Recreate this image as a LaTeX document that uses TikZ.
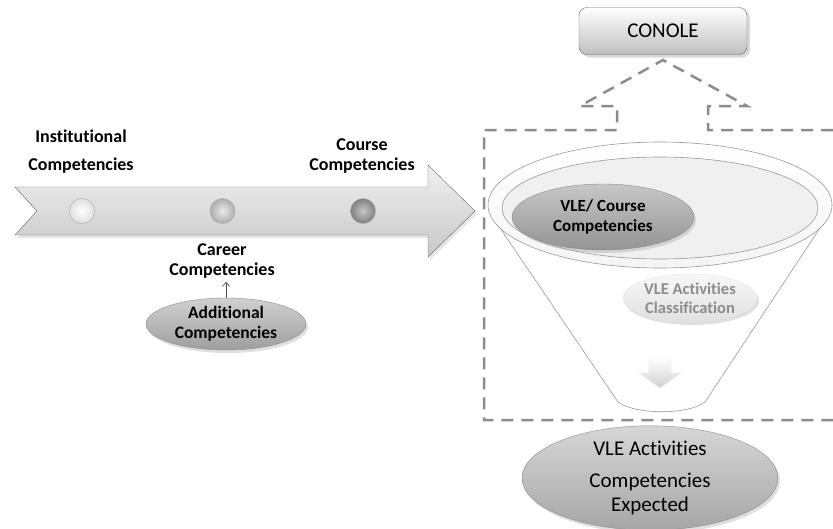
\documentclass[tikz,border=0pt]{standalone}
\usepackage{fontspec}
\setmainfont{Carlito}[Ligatures=NoCommon]
\usetikzlibrary{shapes.geometric,shadows,positioning,arrows.meta}

\begin{document}
\begin{tikzpicture}[x=1pt,y=-1pt,node distance=140.5pt,>={Straight Barb[length=4pt,width=7pt]}]

    \tikzstyle{lbl} = [align=center, font=\fontsize{18}{20}\selectfont\bfseries];
    \tikzstyle{dot} = [circle, minimum size=25pt, inner sep=0pt, draw=black!35, shading=radial];
    \tikzstyle{oval} = [ellipse, draw=black!45, align=center, inner sep=0pt, top color=black!18, bottom color=black!38, drop shadow={opacity=0.25, shadow xshift=2pt, shadow yshift=-3pt}];
    \tikzstyle{box} = [rectangle, rounded corners=8pt, draw=black!60, minimum width=168pt, minimum height=47pt, top color=white, bottom color=black!25, font=\fontsize{21}{24}\selectfont, drop shadow={opacity=0.3, shadow xshift=3pt, shadow yshift=-3pt}];
    \tikzstyle{dashline} = [draw=black!45, line width=2.5pt, dash pattern=on 12pt off 8pt];
    \tikzstyle{rim} = [draw=black!40, line width=0.6pt];

    \useasboundingbox (0,0) rectangle (833,528);

    % timeline
    \draw[draw=black!60, top color=black!6, bottom color=black!22, drop shadow={opacity=0.2, shadow xshift=2pt, shadow yshift=-3pt}]
        (15,187) -- (428,187) -- (428,165) -- (475,211) -- (428,257) -- (428,235) -- (15,235) -- (37,211) -- cycle;
    \node[dot, inner color=white, outer color=black!12] (d1) at (82,211) {};
    \node[dot, inner color=black!8, outer color=black!32, right of=d1] (d2) {};
    \node[dot, inner color=black!22, outer color=black!50, right of=d2] (d3) {};

    \node[lbl] (inst) at (81,152) {Institutional\\[8pt]Competencies};
    \node[lbl] (course) at (362,156) {Course\\Competencies};
    \node[lbl] (career) at (222,261) {Career\\Competencies};

    \node[oval, minimum width=160pt, minimum height=52pt, font=\fontsize{17.5}{20}\selectfont\bfseries] (addl) at (226,324) {Additional\\Competencies};
    \draw[->, black!70, line width=0.7pt] (addl.north) -- (addl.north |- career.south);

    % CONOLE
    \node[box] (conole) at (663,31) {CONOLE};
    \coordinate (apex) at (663,60);
    \draw[dashline] (833,130) -- (708,130) -- (708,106) -- (747,106) -- (apex) -- (580,106)
        -- (617,106) -- (617,130) -- (484,130) -- (484,420) -- (833,420);

    % funnel
    \draw[rim, fill=white] (500,228) -- (618,402) .. controls (636,415) and (688,415) .. (705,402) -- (820,228);
    \node[ellipse, rim, top color=white, bottom color=black!4, minimum width=344pt, minimum height=126pt] (outer) at (660,205) {};
    \node[ellipse, rim, fill=black!6, minimum width=316pt, minimum height=102pt] (inner) at (660,208) {};

    \node[oval, minimum width=182pt, minimum height=66pt, top color=black!22, bottom color=black!42, font=\fontsize{17}{20}\selectfont\bfseries] (vle) at (603,217) {VLE/ Course\\Competencies};
    \node[oval, draw=black!10, top color=black!3, bottom color=black!12, minimum width=134pt, minimum height=48pt, text=black!45, font=\fontsize{16.5}{19}\selectfont\bfseries] (classif) at (690,298) {VLE Activities\\Classification};

    \draw[draw=black!8, top color=white, bottom color=black!18]
        (649,358) -- (671,358) -- (671,373) -- (681,373) -- (660,388) -- (639,373) -- (649,373) -- cycle;

    \node[oval, minimum width=256pt, minimum height=92pt, top color=black!16, bottom color=black!35, font=\fontsize{21}{24}\selectfont] (expected) at (650,478) {VLE Activities\\[8pt]Competencies\\Expected};

\end{tikzpicture}
\end{document}
